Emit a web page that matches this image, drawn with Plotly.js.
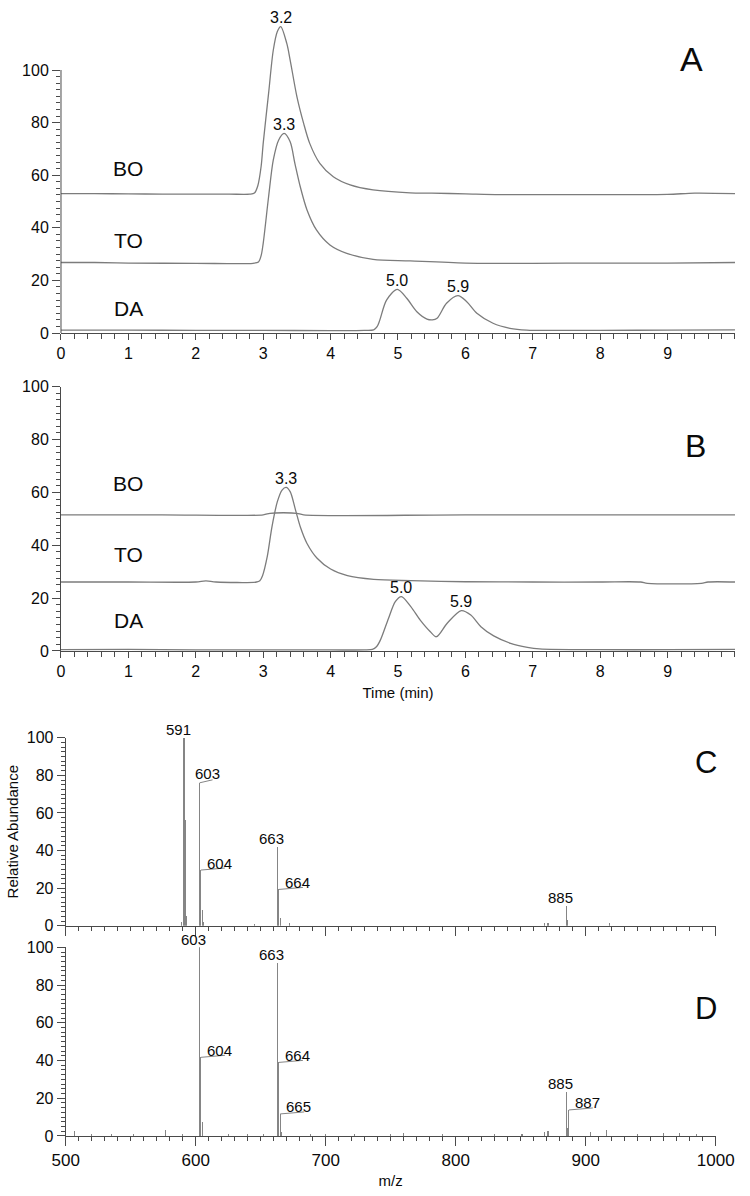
<!DOCTYPE html>
<html>
<head>
<meta charset="utf-8">
<script src="https://cdn.plot.ly/plotly-3.0.1.min.js"></script>
<style>html,body{margin:0;padding:0;background:#fff}#chart{width:750px;height:1196px}</style>
</head>
<body>
<div id="chart"></div>
<script>
// ---------- DATA: chromatograms, panel A ----------
const A_BO_t = [0, 0.5, 1.0, 1.5, 2.0, 2.5, 2.8, 2.87, 2.92, 2.97, 3.0, 3.08, 3.15, 3.21, 3.26, 3.35, 3.40, 3.50, 3.60, 3.69, 3.84, 4.04, 4.29, 4.63, 5.18, 5.5, 6.0, 6.5, 7.0, 8.0, 9.0, 9.4, 10.0];
const A_BO_y = [53.0, 53.0, 52.9, 52.8, 52.8, 52.8, 52.8, 53.2, 56.0, 63.5, 72.1, 91.1, 107.6, 114.6, 116.5, 110.1, 103.8, 89.9, 79.7, 72.1, 64.5, 59.4, 56.3, 54.4, 53.3, 53.2, 52.9, 52.6, 52.6, 52.6, 52.7, 53.2, 53.0];
const A_TO_t = [0, 0.5, 1.0, 2.0, 2.85, 2.93, 2.97, 3.0, 3.08, 3.15, 3.23, 3.31, 3.40, 3.47, 3.55, 3.65, 3.79, 3.99, 4.24, 4.63, 5.18, 6.0, 7.0, 8.0, 9.0, 10.0];
const A_TO_y = [26.8, 26.8, 26.6, 26.5, 26.5, 27.0, 29.5, 34.1, 51.8, 65.8, 73.4, 75.9, 72.7, 64.5, 55.6, 46.8, 39.2, 33.5, 30.3, 28.0, 27.4, 26.6, 26.5, 26.6, 26.6, 26.8];
const A_DA_t = [0, 1, 2, 3, 4, 4.5, 4.64, 4.69, 4.73, 4.83, 4.99, 5.13, 5.28, 5.43, 5.51, 5.58, 5.72, 5.89, 6.02, 6.17, 6.41, 6.66, 6.91, 7.5, 8, 9, 10];
const A_DA_y = [1.1, 1.1, 1.0, 1.0, 0.9, 1.0, 1.2, 2.4, 4.9, 12.5, 16.6, 13.2, 8.1, 5.3, 5.0, 5.6, 11.3, 14.2, 11.9, 7.5, 3.7, 1.8, 1.1, 1.0, 1.0, 1.1, 1.2];

// ---------- DATA: chromatograms, panel B ----------
const B_BO_t = [0, 1.5, 3.0, 3.1, 3.3, 3.5, 3.6, 6.0, 10];
const B_BO_y = [51.5, 51.5, 51.5, 52.1, 52.3, 52.1, 51.5, 51.5, 51.5];
const B_TO_t = [0, 1, 2.0, 2.15, 2.3, 2.9, 2.95, 2.99, 3.06, 3.13, 3.21, 3.28, 3.34, 3.40, 3.48, 3.55, 3.65, 3.80, 4.00, 4.25, 4.64, 5.19, 6, 7, 8, 8.6, 8.7, 9.5, 9.6, 10];
const B_TO_y = [26.1, 26.1, 26.1, 26.5, 26.1, 26.1, 26.6, 28.5, 35.7, 47.0, 56.5, 60.9, 61.9, 60.3, 53.3, 47.0, 40.7, 35.1, 31.0, 28.5, 27.1, 26.6, 26.2, 26.1, 26.1, 26.1, 25.6, 25.6, 26.1, 26.1];
const B_DA_t = [0, 1, 2, 3, 4, 4.5, 4.62, 4.68, 4.74, 4.86, 4.96, 5.05, 5.19, 5.33, 5.48, 5.57, 5.73, 5.94, 6.08, 6.23, 6.42, 6.67, 6.92, 7.1, 8, 9, 10];
const B_DA_y = [0.5, 0.6, 0.4, 0.4, 0.4, 0.4, 0.6, 1.6, 4.2, 12.4, 18.7, 20.6, 16.8, 11.7, 7.3, 5.4, 10.5, 15.3, 13.6, 9.2, 5.7, 2.9, 1.4, 0.8, 0.5, 0.5, 0.6];

// labelled retention-time peaks: [series, time at apex, label]
const A_peaks = [['BO', 3.26, '3.2'], ['TO', 3.31, '3.3'], ['DA', 4.99, '5.0'], ['DA', 5.89, '5.9']];
const B_peaks = [['TO', 3.34, '3.3'], ['DA', 5.05, '5.0'], ['DA', 5.94, '5.9']];
const seriesNames = ['BO', 'TO', 'DA'];
const timeTicks = [0, 1, 2, 3, 4, 5, 6, 7, 8, 9];
const abundTicks = [0, 20, 40, 60, 80, 100];

// ---------- DATA: mass spectra ----------
const C_mz  = [589, 591, 592, 593, 603, 604, 605, 606, 645, 663, 664, 665, 672, 868, 871, 885, 886, 918];
const C_int = [2.0, 100, 56, 5, 76, 29.6, 8.4, 2, 0.8, 42, 19.3, 4, 1.5, 1.5, 1.5, 10.5, 3, 1.5];
const C_labMz   = [591, 603, 604, 663, 664, 885];
const C_labKind = ['top', 'short', 'lead', 'top', 'lead', 'top'];

const D_mz  = [507, 520, 535, 552, 577, 590, 603, 604, 605, 625, 640, 652, 663, 664, 665, 666, 688, 700, 722, 750, 760, 790, 830, 851, 868, 871, 885, 886, 887, 904, 916, 940, 960, 972, 985];
const D_int = [2.5, 1, 1, 1, 3, 1, 100, 41.7, 7.6, 1, 1, 1, 91.8, 39, 11.7, 2, 1, 1, 1, 1, 1.5, 1, 1, 1, 2, 2.5, 23.5, 4, 13.8, 2, 3, 1, 1.5, 1.5, 1];
const D_labMz   = [603, 604, 663, 664, 665, 885, 887];
const D_labKind = ['top', 'lead', 'top', 'lead', 'lead', 'top', 'lead'];

const mzTicks = [500, 600, 700, 800, 900, 1000];

// ---------- STYLE ----------
const FONT = 'Liberation Sans, Arial, Helvetica, sans-serif';
const TXT = '#0a0a0a';
const AXC = '#4a4a4a';
const LINEC = '#7c7c7c';
const STICKC = '#858585';

const chrom = {
  A: {BO: [A_BO_t, A_BO_y], TO: [A_TO_t, A_TO_y], DA: [A_DA_t, A_DA_y]},
  B: {BO: [B_BO_t, B_BO_y], TO: [B_TO_t, B_TO_y], DA: [B_DA_t, B_DA_y]}
};

const traces = [];
const annotations = [];
const shapes = [];

function addChrom(panel, xa, ya) {
  seriesNames.forEach(n => {
    traces.push({
      type: 'scatter', mode: 'lines', name: panel + ' ' + n,
      x: chrom[panel][n][0], y: chrom[panel][n][1],
      xaxis: xa, yaxis: ya,
      line: {color: LINEC, width: 1.3, shape: 'spline', smoothing: 0.85},
      hoverinfo: 'skip'
    });
  });
}
addChrom('A', 'x', 'y');
addChrom('B', 'x2', 'y2');

function peakLabels(panel, peaks, xa, ya) {
  peaks.forEach(p => {
    const arr = chrom[panel][p[0]];
    const i = arr[0].indexOf(p[1]);
    annotations.push({
      xref: xa, yref: ya, x: p[1], y: arr[1][i], text: p[2], showarrow: false,
      xanchor: 'center', yanchor: 'middle', yshift: 9,
      font: {family: FONT, size: 16, color: TXT}
    });
  });
}
peakLabels('A', A_peaks, 'x', 'y');
peakLabels('B', B_peaks, 'x2', 'y2');

// series names inside panels A and B
const nameStyle = {family: FONT, size: 21, color: TXT};
[['x', 'y', [61.6, 34.6, 8.7]], ['x2', 'y2', [62.8, 35.9, 10.6]]].forEach(cfg => {
  seriesNames.forEach((n, k) => {
    annotations.push({xref: cfg[0], yref: cfg[1], x: 1.0, y: cfg[2][k], text: n, showarrow: false,
      xanchor: 'center', yanchor: 'middle', yshift: 2, font: nameStyle});
  });
});

// spectra
function addSpectrum(mz, inten, xa, ya) {
  traces.push({
    type: 'bar', x: mz, y: inten, xaxis: xa, yaxis: ya, width: 0.9,
    marker: {color: STICKC, line: {width: 0}}, hoverinfo: 'skip'
  });
}
addSpectrum(C_mz, C_int, 'x3', 'y3');
addSpectrum(D_mz, D_int, 'x4', 'y4');

const LABEL_STYLE = {
  top:   {lead: 0,  rise: 0, xanchor: 'center', xshift: -6, yshift: 8},
  lead:  {lead: 24, rise: 2, xanchor: 'left',   xshift: 4,  yshift: 7},
  short: {lead: 13, rise: 3, xanchor: 'center', xshift: 8,  yshift: 9}
};
function specLabels(mz, inten, labMz, labKind, xa, ya) {
  labMz.forEach((m, k) => {
    const h = inten[mz.indexOf(m)];
    const st = LABEL_STYLE[labKind[k]];
    annotations.push({
      xref: xa, yref: ya, x: m, y: h, text: String(m), showarrow: false,
      xanchor: st.xanchor, yanchor: 'middle', xshift: st.xshift, yshift: st.yshift,
      font: {family: FONT, size: 15, color: TXT}
    });
    if (st.lead > 0) {
      shapes.push({type: 'line', xref: xa, yref: ya, xsizemode: 'pixel', ysizemode: 'pixel',
        xanchor: m, yanchor: h, x0: 0, x1: st.lead, y0: 0, y1: st.rise,
        line: {color: STICKC, width: 1}});
    }
  });
}
specLabels(C_mz, C_int, C_labMz, C_labKind, 'x3', 'y3');
specLabels(D_mz, D_int, D_labMz, D_labKind, 'x4', 'y4');

// panel letters
[['A', 0.9223, 0.9473, 34], ['B', 0.9276, 0.6237, 32], ['C', 0.9413, 0.3595, 31], ['D', 0.9409, 0.1536, 31]].forEach(l => {
  annotations.push({xref: 'paper', yref: 'paper', x: l[1], y: l[2], text: l[0], showarrow: false,
    xanchor: 'center', yanchor: 'middle', yshift: 4, font: {family: FONT, size: l[3], color: TXT}});
});

// y axis line of panel A only spans 0..100
shapes.push({type: 'line', xref: 'x domain', yref: 'y', x0: 0, x1: 0, y0: 0, y1: 100, line: {color: AXC, width: 1}});

const tickFont = {family: FONT, size: 16, color: TXT};
const minorY = [];
for (let v = 0; v <= 100; v += 2.5) minorY.push(v);

function timeAxis(anchor, title) {
  const ax = {
    domain: [0.08133, 0.98], anchor: anchor, range: [0, 10],
    showline: true, linecolor: AXC, linewidth: 1, showgrid: false, zeroline: false,
    tickmode: 'array', tickvals: timeTicks, ticks: 'outside', ticklen: 6, tickcolor: AXC, tickwidth: 1,
    tickfont: tickFont,
    minor: {tickmode: 'linear', tick0: 0, dtick: 0.2, ticks: 'outside', ticklen: 5, tickcolor: AXC, tickwidth: 1}
  };
  if (title) ax.title = {text: title, font: {family: FONT, size: 15, color: TXT}, standoff: 8};
  return ax;
}
function abundAxis(domain, anchor, range, showline, title) {
  const ax = {
    domain: domain, anchor: anchor, range: range,
    showline: showline, linecolor: AXC, linewidth: 1, showgrid: false, zeroline: false,
    tickmode: 'array', tickvals: abundTicks, ticks: 'outside', ticklen: 8, tickcolor: AXC, tickwidth: 1,
    tickfont: tickFont,
    minor: {tickmode: 'array', tickvals: minorY, ticks: 'outside', ticklen: 4, tickcolor: AXC, tickwidth: 1}
  };
  if (title) ax.title = {text: title, font: {family: FONT, size: 15, color: TXT}, standoff: 4};
  return ax;
}
function mzAxis(anchor, showLabels, title) {
  const ax = {
    domain: [0.0876, 0.95427], anchor: anchor, range: [500, 1000],
    showline: true, linecolor: AXC, linewidth: 1, showgrid: false, zeroline: false,
    tickmode: 'array', tickvals: mzTicks, ticks: 'outside', ticklen: 9, tickcolor: AXC, tickwidth: 1,
    showticklabels: showLabels, tickfont: {family: FONT, size: 17, color: TXT},
    minor: {tickmode: 'linear', tick0: 500, dtick: 10, ticks: 'outside', ticklen: 4, tickcolor: AXC, tickwidth: 1}
  };
  if (title) ax.title = {text: title, font: {family: FONT, size: 15, color: TXT}, standoff: 6};
  return ax;
}

const layout = {
  width: 750, height: 1196,
  margin: {l: 0, r: 0, t: 0, b: 0},
  paper_bgcolor: '#fff', plot_bgcolor: '#fff',
  showlegend: false, font: {family: FONT, color: TXT},
  xaxis: timeAxis('y'),
  yaxis: abundAxis([0.72157, 0.98545], 'x', [0, 120], false),
  xaxis2: timeAxis('y2', 'Time (min)'),
  yaxis2: abundAxis([0.45569, 0.67667], 'x2', [0, 100], true),
  xaxis3: mzAxis('y3', false),
  yaxis3: abundAxis([0.22600, 0.38319], 'x3', [0, 100], true, 'Relative Abundance'),
  xaxis4: mzAxis('y4', true, 'm/z'),
  yaxis4: abundAxis([0.05017, 0.20794], 'x4', [0, 100], true),
  bargap: 0,
  annotations: annotations,
  shapes: shapes
};

Plotly.newPlot('chart', traces, layout, {displayModeBar: false, staticPlot: true});
</script>
</body>
</html>
